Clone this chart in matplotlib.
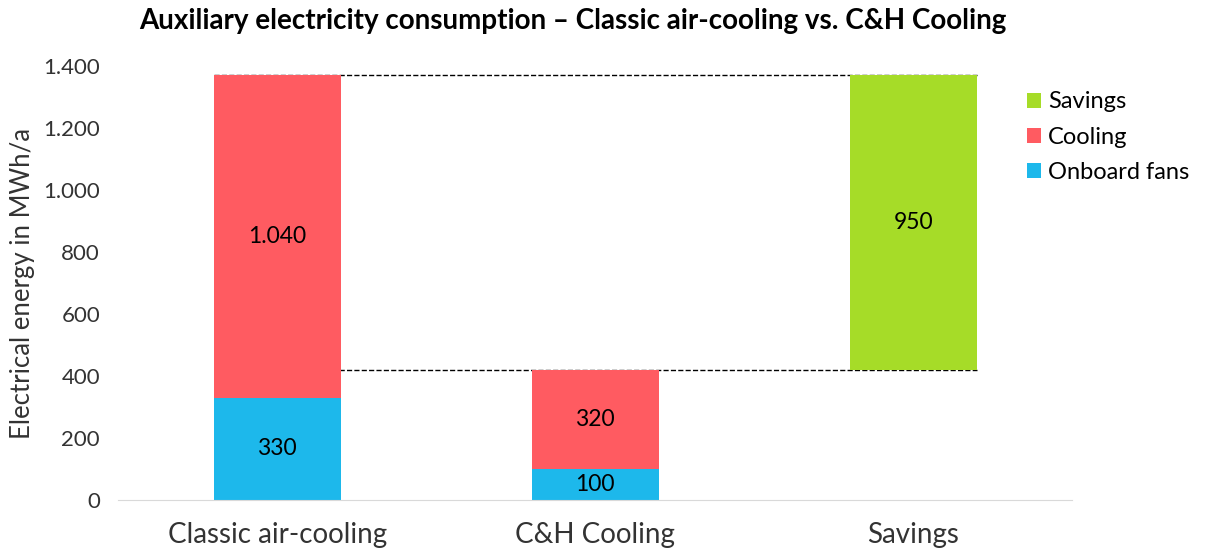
import matplotlib.pyplot as plt
from matplotlib.ticker import FuncFormatter

plt.rcParams['font.family'] = ['Lato', 'DejaVu Sans']

categories = ['Classic air-cooling', 'C&H Cooling', 'Savings']
fans = [330, 100]
cooling = [1040, 320]
savings = 950

c_fans = '#1DB8EB'
c_cool = '#FF5B61'
c_save = '#A6DC28'

fig = plt.figure(figsize=(12.05, 5.49), dpi=100)
ax = fig.add_axes([0.098, 0.089, 0.792, 0.791])

w = 0.4
x = [0, 1, 2]
totals = [fans[i] + cooling[i] for i in range(2)]

b1 = ax.bar(x[:2], fans, w, color=c_fans, label='Onboard fans')
b2 = ax.bar(x[:2], cooling, w, bottom=fans, color=c_cool, label='Cooling')
b3 = ax.bar(x[2], savings, w, bottom=totals[1], color=c_save, label='Savings')

for b, v in zip(b1, fans):
    ax.text(b.get_x() + w / 2, b.get_y() + v / 2, f'{v}', ha='center', va='center', fontsize=16.5)
for b, v in zip(b2, cooling):
    ax.text(b.get_x() + w / 2, b.get_y() + v / 2, f'{v:,}'.replace(',', '.'), ha='center', va='center', fontsize=16.5)
ax.text(x[2], totals[1] + savings / 2, f'{savings}', ha='center', va='center', fontsize=16.5)

ax.plot([x[0] - w / 2, x[2] + w / 2], [totals[0], totals[0]], 'k--', lw=1, zorder=0)
ax.plot([x[0] - w / 2, x[2] + w / 2], [totals[1], totals[1]], 'k--', lw=1, zorder=0)

ax.set_xlim(-0.5, 2.5)
ax.set_ylim(0, 1400)
ax.set_yticks(range(0, 1401, 200))
ax.yaxis.set_major_formatter(FuncFormatter(lambda v, p: f'{int(v):,}'.replace(',', '.')))
ax.set_xticks(x)
ax.set_xticklabels(categories, fontsize=20, color='#333333')
ax.tick_params(axis='y', labelsize=16, length=0, pad=13, labelcolor='#333333')
ax.tick_params(axis='x', length=0, pad=16)
for s in ['top', 'right', 'left']:
    ax.spines[s].set_visible(False)
ax.spines['bottom'].set_color('#d9d9d9')
ax.set_ylabel('Electrical energy in MWh/a', fontsize=18.5, color='#333333', labelpad=6)

h, l = ax.get_legend_handles_labels()
ax.legend(h[::-1], l[::-1], loc='upper left', bbox_to_anchor=(0.93, 0.99), frameon=False,
          fontsize=17, handlelength=0.6, handleheight=0.6, handletextpad=0.3, labelspacing=0.6)

fig.suptitle('Auxiliary electricity consumption – Classic air-cooling vs. C&H Cooling',
             x=0.475, y=0.985, fontsize=20, fontweight='bold')

plt.savefig('out.png')
